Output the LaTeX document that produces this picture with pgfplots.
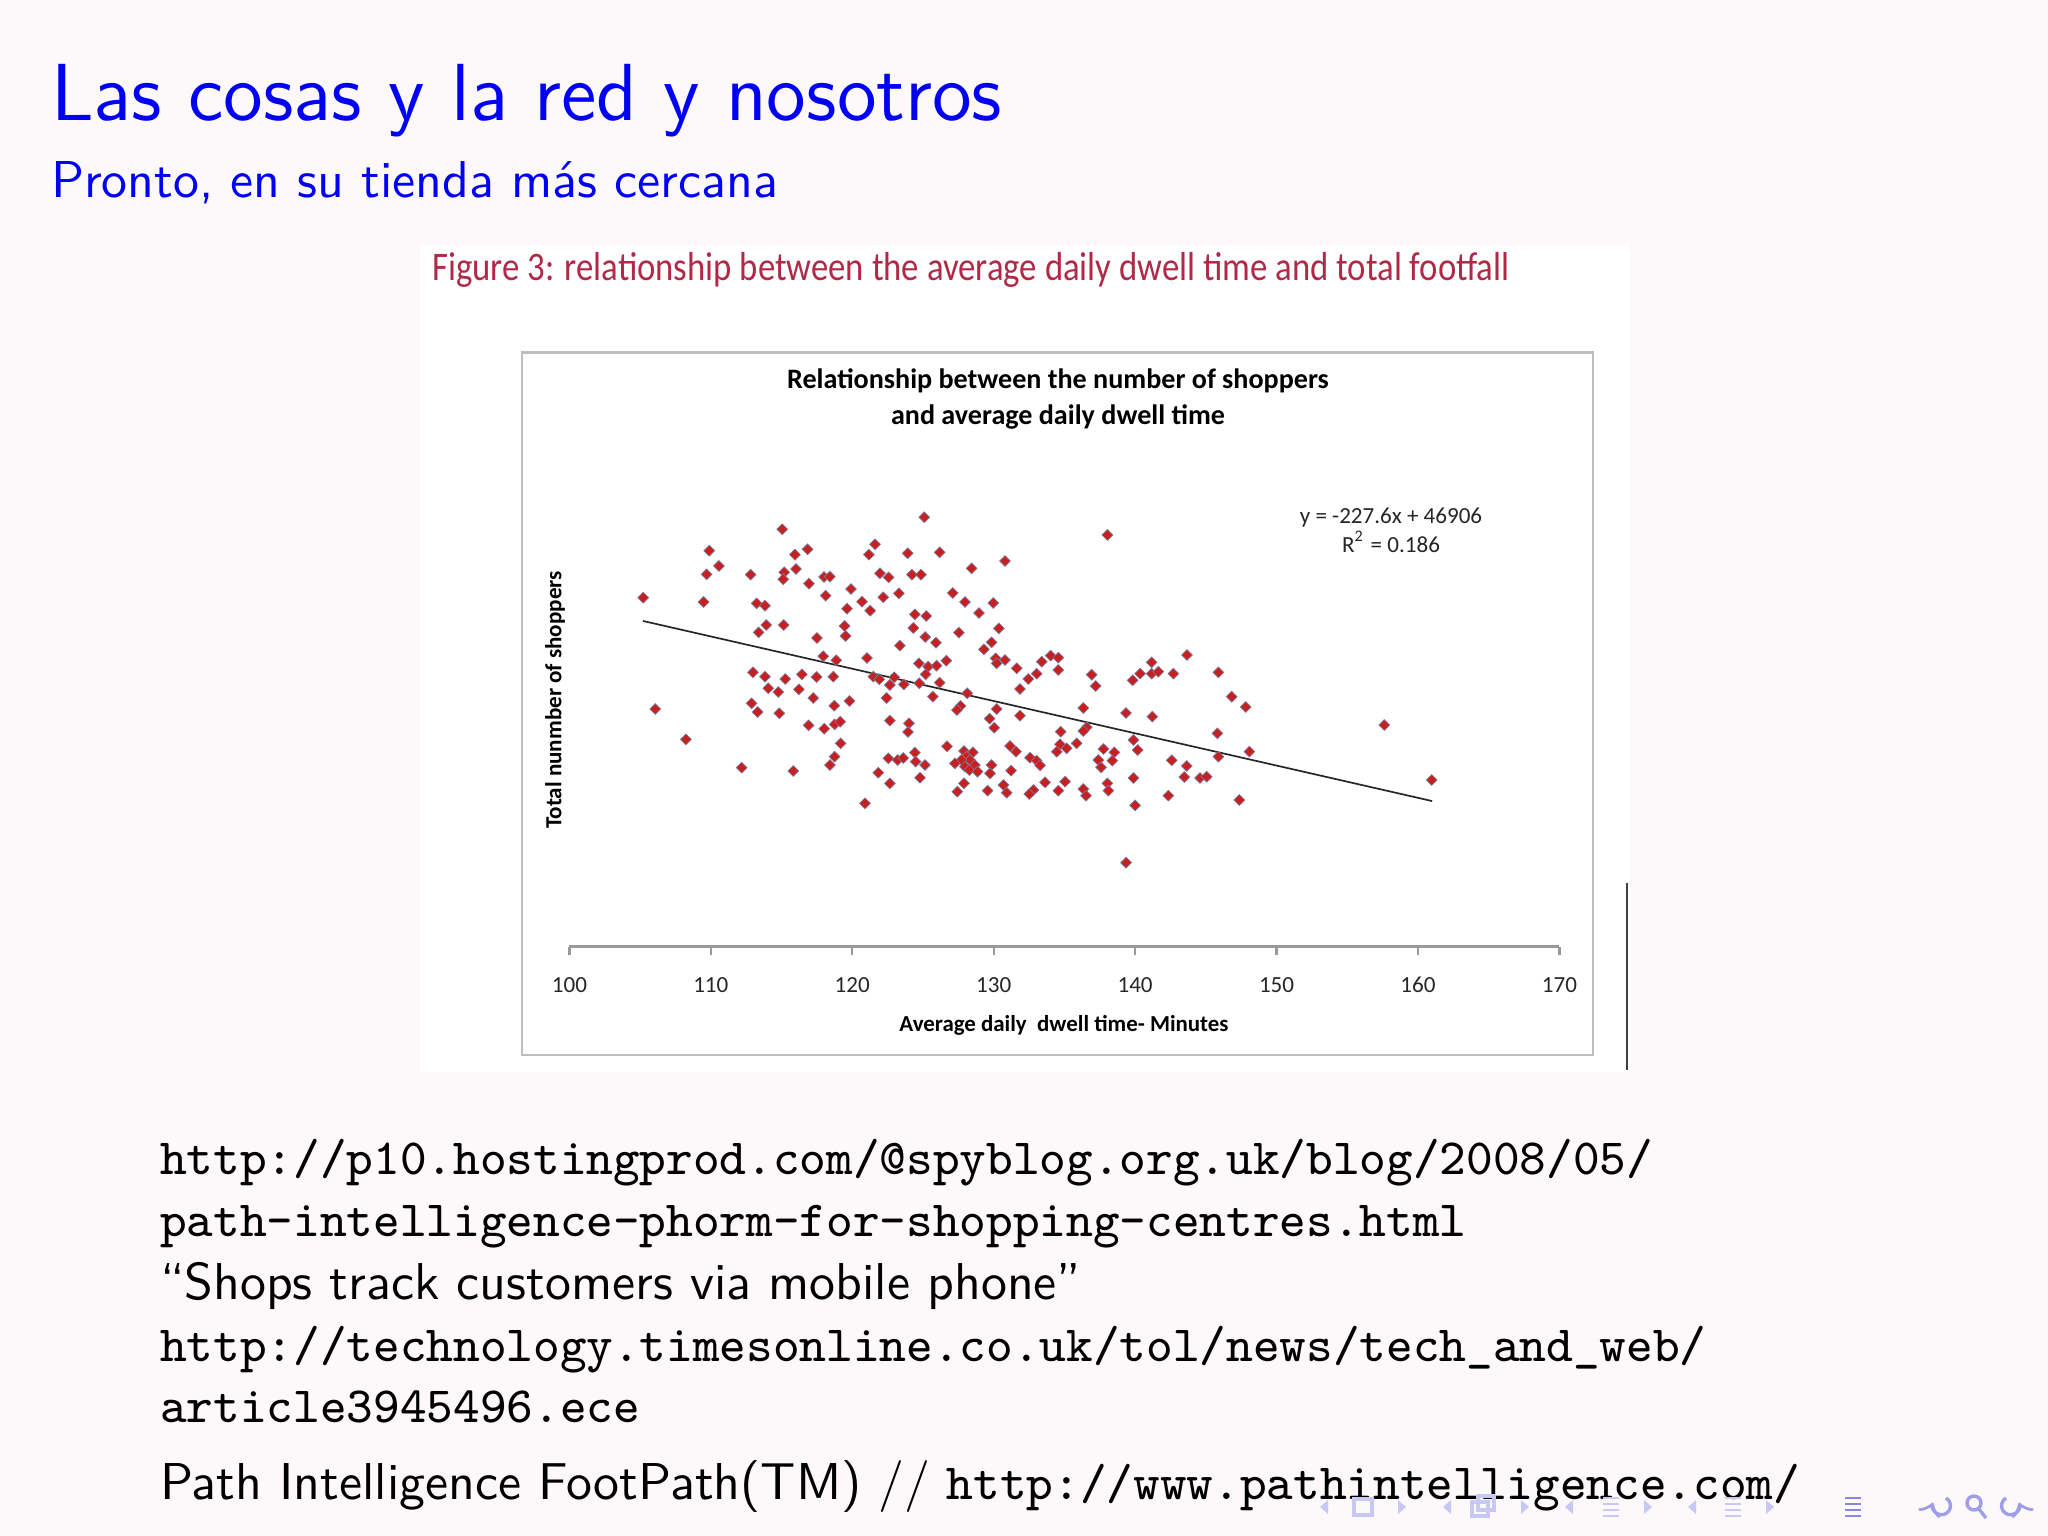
\documentclass[border=0pt]{standalone}
\usepackage{fontspec}
\usepackage{pgfplots}
\usepackage{graphicx}
\pgfplotsset{compat=1.18}
\newfontfamily\carlito{Carlito}
\definecolor{slidebg}{RGB}{253,248,250}
\definecolor{titleblue}{RGB}{0,0,245}
\definecolor{capred}{RGB}{176,42,72}
\definecolor{mkred}{RGB}{200,32,28}
\definecolor{mkedge}{RGB}{120,120,165}
\definecolor{navlight}{RGB}{200,200,245}
\definecolor{navmid}{RGB}{135,135,228}
\definecolor{chartgray}{RGB}{190,190,190}
\pgfplotstableread{
x y
125.09 30272
115.05 29426
121.61 28368
109.89 27921
116.84 28015
115.95 27639
121.18 27639
123.92 27733
126.18 27804
110.57 26840
116.02 26628
128.44 26675
109.70 26252
112.81 26228
115.19 26393
115.12 25899
118.00 26064
118.42 26087
121.96 26322
122.57 26040
124.22 26228
124.86 26228
116.94 25594
119.91 25218
127.10 24935
123.30 24912
118.12 24747
122.19 24630
105.22 24606
109.49 24301
113.24 24207
113.83 24042
120.69 24324
127.97 24301
129.97 24230
119.63 23830
121.27 23689
128.96 23525
124.43 23431
125.23 23313
113.92 22678
115.15 22678
119.46 22608
124.32 22467
130.37 22443
113.38 22161
127.54 22138
119.53 21903
117.50 21762
125.16 21832
125.92 21432
129.85 21456
123.37 21221
129.31 20962
117.95 20469
121.04 20351
118.87 20186
130.14 20327
130.21 19975
126.65 20163
124.71 19975
125.37 19740
125.96 19810
112.98 19340
116.44 19199
117.48 19011
118.66 19034
113.83 19034
115.26 18870
121.49 19034
121.91 18846
122.97 18987
125.19 19199
122.66 18447
123.65 18494
124.74 18564
126.18 18611
114.06 18212
114.77 17953
116.23 18141
128.13 17859
117.24 17530
122.43 17530
125.70 17624
112.88 17154
119.81 17318
118.73 16989
127.66 16966
127.40 16683
130.21 16754
106.07 16754
113.31 16542
114.84 16448
122.66 15931
124.01 15743
129.71 16072
123.94 15132
130.04 15437
116.91 15602
118.02 15367
118.75 15672
119.15 15861
108.24 14615
119.18 14332
126.70 14121
124.43 13674
122.55 13274
123.21 13157
123.61 13298
118.75 13392
118.42 12804
124.48 13039
125.14 12804
127.90 13792
128.53 13698
128.09 13392
128.32 13157
127.73 13157
127.26 12922
128.67 12804
127.97 12687
128.28 12452
128.86 12334
129.85 12804
129.74 12216
112.18 12616
115.83 12381
121.84 12263
124.79 11911
122.66 11511
127.90 11511
127.43 10923
129.57 10994
120.90 10101
138.04 29026
130.80 27192
143.67 20563
134.03 20516
134.57 20374
130.80 20210
133.40 20092
131.63 19622
141.17 20045
134.57 19505
133.04 19246
132.45 18870
136.93 19175
140.35 19246
141.17 19246
141.64 19387
142.71 19246
145.89 19340
139.83 18776
131.86 18165
137.21 18376
146.83 17624
147.82 16895
136.34 16824
139.36 16472
141.22 16213
131.86 16284
145.82 15038
134.74 15155
136.58 15461
136.34 15202
139.88 14567
131.16 14144
135.87 14332
134.69 14262
135.16 13980
137.76 13933
134.46 13745
140.18 13862
138.53 13698
131.58 13745
148.08 13745
132.57 13321
133.04 13110
133.28 12781
137.40 13157
138.39 13110
137.59 12640
142.59 13133
145.89 13392
143.65 12734
131.23 12405
130.69 11394
130.92 10853
133.63 11582
135.05 11629
138.04 11511
138.11 10994
136.34 11111
136.53 10641
134.57 10994
132.81 11041
132.52 10759
139.88 11887
143.48 11958
144.59 11887
145.06 11981
142.35 10641
140.00 9960
147.37 10336
157.62 15625
160.97 11746
139.36 5916
}\shoppers
\newcommand{\navL}[3]{\fill[#3] (#1+4,#2-7) -- (#1+4,#2+7) -- (#1-4,#2) -- cycle;}
\newcommand{\navR}[3]{\fill[#3] (#1-4,#2-7) -- (#1-4,#2+7) -- (#1+4,#2) -- cycle;}
\newcommand{\navE}[3]{\foreach \k in {-9,-3,3,9}{\draw[#3,line width=0.5pt] (#1-8,#2+\k) -- (#1+8,#2+\k);}}
\newcommand{\bodysf}[1]{\scalebox{0.9215}{\sffamily\fontsize{10}{12}\selectfont #1}}
\begin{document}
\begin{tikzpicture}[x=0.0625mm,y=0.0625mm]
\fill[slidebg] (0,0) rectangle (2048,1536);
% slide title
\node[anchor=base west,inner sep=0pt,text=titleblue,font=\sffamily\fontsize{14.4}{17}\selectfont] at (50,{1536-121}) {Las cosas y la red y nosotros};
\node[anchor=base west,inner sep=0pt,text=titleblue] at (50,{1536-198}) {\bodysf{Pronto, en su tienda más cercana}};
% embedded figure
\fill[white] (420,{1536-1072}) rectangle (1630,{1536-245});
\node[anchor=base west,inner sep=0pt,text=capred,font=\carlito\fontsize{7.2}{8}\selectfont] at (431,{1536-281}) {\scalebox{0.858}[1]{Figure 3: relationship between the average daily dwell time and total footfall}};
\draw[chartgray,line width=0.4pt] (522,{1536-1055}) rectangle (1593,{1536-352.5});
\draw[black!75,line width=0.35pt] (1627,{1536-883}) -- (1627,{1536-1070});
\node[anchor=base,inner sep=0pt,font=\carlito\bfseries\fontsize{5}{6}\selectfont] at (1058,{1536-389}) {Relationship between the number of shoppers};
\node[anchor=base,inner sep=0pt,font=\carlito\bfseries\fontsize{5}{6}\selectfont] at (1058,{1536-424.5}) {and average daily dwell time};
\node[anchor=base,inner sep=0pt,text=black!85,font=\carlito\fontsize{4.1}{5}\selectfont] at (1391,{1536-523.7}) {y = -227.6x + 46906};
\node[anchor=base,inner sep=0pt,text=black!85,font=\carlito\fontsize{4.1}{5}\selectfont] at (1391,{1536-552.4}) {R\textsuperscript{2} = 0.186};
\node[anchor=base,inner sep=0pt,font=\carlito\bfseries\fontsize{4.07}{5}\selectfont] at (1064,{1536-1032}) {Average daily\ \ dwell time- Minutes};
\node[rotate=90,anchor=center,inner sep=0pt,font=\carlito\bfseries\fontsize{4.1}{5}\selectfont] at (555,{1536-700}) {Total nunmber of shoppers};
\coordinate (axorig) at (569.4,{1536-946.6});
\begin{axis}[
  at={(axorig)}, anchor=south west,
  scale only axis, width=61.875mm, height=31.02mm,
  xmin=100, xmax=170, ymin=0, ymax=35000,
  axis y line=none, axis x line*=bottom,
  x axis line style={-, draw=black!40, line width=0.4pt},
  xtick={100,110,...,170},
  tick align=outside, major tick length=0.55mm,
  tick style={draw=black!40, line width=0.4pt},
  /pgf/number format/assume math mode=true,
  xticklabel style={font=\carlito\fontsize{4.1}{5}\selectfont, text=black!85, anchor=base, yshift=-2.30mm},
  clip=false,
]
\addplot[only marks, mark=square*, mark size=0.68pt,
  mark options={rotate=45, fill=mkred, draw=mkedge, line width=0.12pt}] table[x=x,y=y] {\shoppers};
\addplot[black!85, line width=0.3pt] coordinates {(105.2,22963) (161.0,10262)};
\end{axis}
% body text
\node[anchor=base west,inner sep=0pt,font=\ttfamily\fontsize{9.03}{11}\selectfont] at (159,{1536-1175}) {http://p10.hostingprod.com/@spyblog.org.uk/blog/2008/05/};
\node[anchor=base west,inner sep=0pt,font=\ttfamily\fontsize{9.03}{11}\selectfont] at (159,{1536-1237}) {path-intelligence-phorm-for-shopping-centres.html};
\node[anchor=base west,inner sep=0pt] at (159,{1536-1300}) {\bodysf{“Shops track customers via mobile phone”}};
\node[anchor=base west,inner sep=0pt,font=\ttfamily\fontsize{9.03}{11}\selectfont] at (159,{1536-1362}) {http://technology.timesonline.co.uk/tol/news/tech\_and\_web/};
\node[anchor=base west,inner sep=0pt,font=\ttfamily\fontsize{9.03}{11}\selectfont] at (159,{1536-1423}) {article3945496.ece};
\node[anchor=base west,inner sep=0pt] at (159,{1536-1500}) {\bodysf{Path Intelligence FootPath(TM) //}\hspace{2.9pt}{\ttfamily\fontsize{9.03}{11}\selectfont http://www.pathintelligence.com/}};
% navigation symbols
\navL{1324}{29}{navlight}
\draw[navlight,line width=0.6pt] (1354,21) rectangle (1372,37);
\navR{1402}{29}{navlight}
\navL{1447}{29}{navlight}
\draw[navlight,line width=0.6pt] (1472,20) rectangle (1488,34);
\draw[navlight,line width=0.6pt] (1478,26) rectangle (1494,40);
\navR{1525}{29}{navlight}
\navL{1569}{29}{navlight}
\navE{1611}{29}{navlight}
\navR{1648}{29}{navlight}
\navL{1692}{29}{navlight}
\navE{1733}{29}{navlight}
\navR{1770}{29}{navlight}
\navE{1853}{29}{navmid}
\draw[navmid!80,line width=0.6pt,->] (1946,38) arc (60:-200:9);
\draw[navmid!80,line width=0.6pt] (1974,33) circle (7) (1979,27) -- (1986,18);
\draw[navmid!80,line width=0.6pt,->] (2006,38) arc (120:380:9);
\end{tikzpicture}
\end{document}
